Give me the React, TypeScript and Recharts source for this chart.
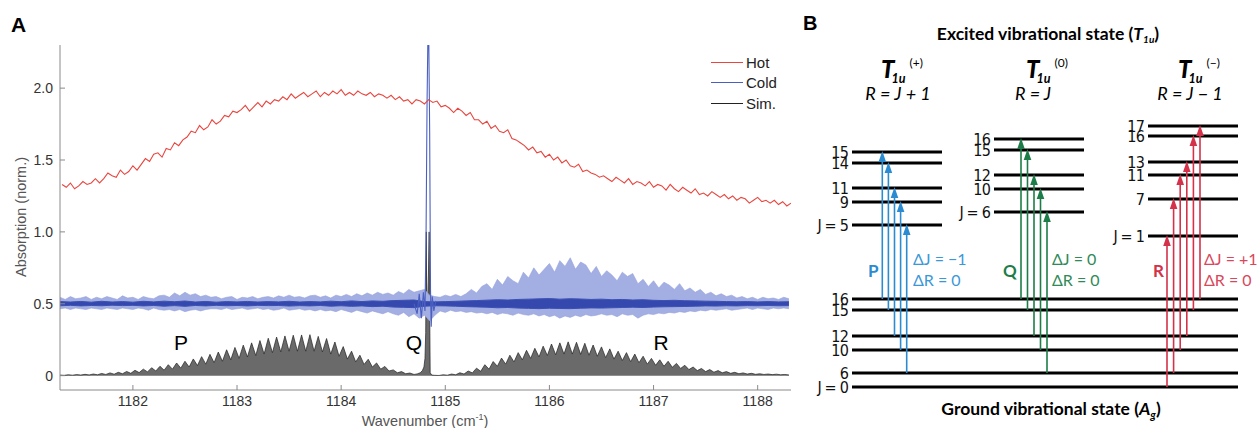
import React from 'react';
import { ComposedChart, Line, Area, XAxis, YAxis, Legend, ReferenceLine, Scatter } from 'recharts';

// ---------- panel A: spectra ----------
const WAVENUMBER_TICKS = [1182, 1183, 1184, 1185, 1186, 1187, 1188];
const ABSORPTION_TICKS = [0, 0.5, 1.0, 1.5, 2.0];

// hot spectrum, sampled every 0.04 cm-1 from 1181.32
const HOT_START = 1181.32;
const HOT_STEP = 0.04;
const HOT = [
  1.33, 1.31, 1.34, 1.30, 1.32, 1.35, 1.33, 1.34, 1.37, 1.34,
  1.37, 1.41, 1.39, 1.38, 1.43, 1.40, 1.42, 1.46, 1.43, 1.47,
  1.51, 1.49, 1.54, 1.55, 1.52, 1.58, 1.57, 1.62, 1.60, 1.64,
  1.66, 1.70, 1.69, 1.74, 1.71, 1.73, 1.78, 1.75, 1.77, 1.81,
  1.80, 1.84, 1.83, 1.85, 1.88, 1.84, 1.87, 1.90, 1.87, 1.91,
  1.89, 1.92, 1.91, 1.94, 1.92, 1.96, 1.93, 1.95, 1.97, 1.94,
  1.96, 1.98, 1.94, 1.97, 1.95, 1.98, 1.96, 1.99, 1.95, 1.97,
  1.95, 1.98, 1.96, 1.95, 1.97, 1.94, 1.96, 1.95, 1.93, 1.95,
  1.92, 1.94, 1.91, 1.92, 1.89, 1.92, 1.91, 1.89, 1.92, 1.90,
  1.91, 1.87, 1.88, 1.86, 1.83, 1.86, 1.84, 1.81, 1.83, 1.78,
  1.78, 1.75, 1.77, 1.72, 1.74, 1.70, 1.69, 1.71, 1.65, 1.64,
  1.62, 1.60, 1.57, 1.59, 1.55, 1.56, 1.52, 1.54, 1.50, 1.52,
  1.48, 1.50, 1.46, 1.45, 1.47, 1.42, 1.43, 1.41, 1.40, 1.38,
  1.39, 1.37, 1.35, 1.38, 1.36, 1.34, 1.37, 1.33, 1.35, 1.34,
  1.32, 1.35, 1.31, 1.33, 1.32, 1.29, 1.33, 1.30, 1.28, 1.31,
  1.29, 1.27, 1.30, 1.26, 1.27, 1.25, 1.28, 1.26, 1.24, 1.26,
  1.23, 1.25, 1.22, 1.24, 1.23, 1.20, 1.22, 1.24, 1.21, 1.22,
  1.20, 1.22, 1.19, 1.21, 1.18, 1.20,
];

// cold spectrum: outer noise envelope every 0.05 cm-1 from 1181.30
const COLD_START = 1181.3;
const COLD_STEP = 0.05;
const COLD_HI = [
  0.545, 0.53, 0.55, 0.535, 0.54, 0.55, 0.53, 0.545, 0.535, 0.55,
  0.54, 0.53, 0.555, 0.54, 0.545, 0.53, 0.55, 0.54, 0.535, 0.555,
  0.56, 0.545, 0.575, 0.555, 0.58, 0.56, 0.57, 0.55, 0.56, 0.545,
  0.55, 0.535, 0.545, 0.55, 0.53, 0.545, 0.54, 0.55, 0.535, 0.545,
  0.55, 0.54, 0.555, 0.545, 0.56, 0.545, 0.55, 0.54, 0.555, 0.56,
  0.545, 0.555, 0.54, 0.56, 0.55, 0.565, 0.55, 0.57, 0.555, 0.575,
  0.56, 0.58, 0.565, 0.575, 0.56, 0.585, 0.57, 0.6, 0.58, 0.59,
  0.6, 0.56, 0.55, 0.545, 0.56, 0.55, 0.565, 0.55,
  0.57, 0.6, 0.575, 0.62, 0.64, 0.6, 0.67, 0.63, 0.69, 0.66,
  0.64, 0.72, 0.68, 0.75, 0.7, 0.74, 0.78, 0.72, 0.8, 0.76,
  0.82, 0.74, 0.79, 0.77, 0.71, 0.76, 0.69, 0.73, 0.7, 0.66,
  0.72, 0.69, 0.71, 0.64, 0.67, 0.62, 0.66, 0.61, 0.65, 0.63,
  0.6, 0.64, 0.59, 0.61, 0.58, 0.6, 0.565, 0.58, 0.555, 0.57,
  0.55, 0.56, 0.54,
  0.55, 0.535, 0.545, 0.53, 0.545, 0.535, 0.54, 0.53, 0.545, 0.535,
];
const COLD_LO = [
  0.465, 0.47, 0.46, 0.47, 0.465, 0.46, 0.47, 0.465, 0.46, 0.47,
  0.465, 0.46, 0.47, 0.465, 0.46, 0.47, 0.465, 0.455, 0.47, 0.46,
  0.455, 0.46, 0.45, 0.46, 0.445, 0.455, 0.46, 0.45, 0.46, 0.465,
  0.465, 0.46, 0.47, 0.46, 0.465, 0.47, 0.46, 0.465, 0.47, 0.46,
  0.465, 0.455, 0.46, 0.47, 0.455, 0.46, 0.465, 0.455, 0.46, 0.45,
  0.46, 0.45, 0.455, 0.445, 0.46, 0.45, 0.44, 0.455, 0.445, 0.435,
  0.45, 0.44, 0.43, 0.445, 0.43, 0.42, 0.44, 0.41, 0.43, 0.40,
  0.42, 0.38, 0.42, 0.45, 0.44, 0.455, 0.445, 0.45, 0.44, 0.445,
  0.435, 0.44, 0.43, 0.44, 0.425, 0.435, 0.43, 0.42, 0.435, 0.425,
  0.42, 0.43, 0.415, 0.425, 0.41, 0.42, 0.40, 0.415, 0.405, 0.42,
  0.41, 0.425, 0.415, 0.42, 0.43, 0.42, 0.425, 0.41, 0.43, 0.42,
  0.425, 0.40, 0.42, 0.43, 0.425, 0.435, 0.43, 0.44, 0.435, 0.445,
  0.44, 0.45, 0.445, 0.455, 0.45, 0.46, 0.455, 0.46, 0.465, 0.455, 0.46,
  0.465, 0.47, 0.46, 0.47, 0.465, 0.46, 0.47, 0.465, 0.47, 0.465,
];
// dense core of the cold trace, every 0.1 cm-1
const CORE_STEP = 0.1;
const COLD_CORE_HI = [
  0.515, 0.512, 0.516, 0.511, 0.517, 0.512, 0.515, 0.511, 0.517, 0.513,
  0.518, 0.514, 0.519, 0.512, 0.516, 0.511, 0.515, 0.513, 0.516, 0.512,
  0.515, 0.513, 0.517, 0.512, 0.515, 0.513, 0.518, 0.514, 0.52, 0.515,
  0.52, 0.517, 0.522, 0.524, 0.526, 0.515, 0.513, 0.515, 0.517, 0.52,
  0.522, 0.525, 0.528, 0.526, 0.53, 0.532, 0.534, 0.536, 0.532, 0.535,
  0.533, 0.53, 0.532, 0.528, 0.53, 0.526, 0.528, 0.524, 0.522, 0.524,
  0.521, 0.52, 0.518, 0.517, 0.515, 0.514, 0.515, 0.513, 0.515, 0.513, 0.514,
];
const COLD_CORE_LO = [
  0.486, 0.489, 0.485, 0.488, 0.486, 0.49, 0.487, 0.489, 0.485, 0.488,
  0.483, 0.487, 0.482, 0.488, 0.485, 0.489, 0.486, 0.488, 0.485, 0.489,
  0.487, 0.488, 0.484, 0.487, 0.485, 0.488, 0.483, 0.486, 0.482, 0.485,
  0.48, 0.483, 0.477, 0.475, 0.473, 0.483, 0.486, 0.485, 0.483, 0.48,
  0.478, 0.476, 0.472, 0.474, 0.47, 0.468, 0.466, 0.469, 0.467, 0.466,
  0.469, 0.471, 0.47, 0.472, 0.474, 0.476, 0.474, 0.477, 0.479, 0.48,
  0.481, 0.483, 0.485, 0.484, 0.486, 0.485, 0.487, 0.486, 0.488, 0.486, 0.487,
];
// Q-branch spike of the cold trace [wavenumber, absorption]
const COLD_Q: [number, number][] = [
  [1184.70, 0.50], [1184.73, 0.43], [1184.75, 0.57], [1184.77, 0.40], [1184.79, 0.58],
  [1184.805, 0.45], [1184.815, 0.95], [1184.825, 1.9], [1184.832, 2.3], [1184.842, 2.3],
  [1184.85, 1.7], [1184.858, 0.6], [1184.865, 0.34], [1184.875, 0.55], [1184.89, 0.45],
  [1184.91, 0.52],
];

// simulated stick spectrum, every 0.04 cm-1
const SIM_STEP = 0.04;
const SIM_P_START = 1181.3;
const SIM_P = [
  0.004, 0.002, 0.006, 0.003, 0.007, 0.004, 0.009, 0.005, 0.011, 0.006,
  0.015, 0.008, 0.019, 0.01, 0.023, 0.013, 0.029, 0.016, 0.037, 0.021,
  0.045, 0.026, 0.055, 0.032, 0.065, 0.038, 0.076, 0.045, 0.088, 0.052,
  0.10, 0.06, 0.116, 0.07, 0.132, 0.08, 0.148, 0.09, 0.164, 0.1,
  0.18, 0.11, 0.196, 0.12, 0.212, 0.13, 0.228, 0.14, 0.244, 0.15,
  0.26, 0.16, 0.268, 0.165, 0.276, 0.17, 0.281, 0.17, 0.283, 0.17,
  0.285, 0.17, 0.273, 0.165, 0.258, 0.15, 0.234, 0.135, 0.202, 0.115,
  0.17, 0.095, 0.142, 0.078, 0.114, 0.06, 0.088, 0.045, 0.064, 0.032,
  0.04, 0.02, 0.028, 0.013, 0.018, 0.008,
];
const SIM_Q: [number, number][] = [
  [1184.73, 0.012], [1184.76, 0.02], [1184.78, 0.035], [1184.795, 0.06], [1184.805, 0.12],
  [1184.812, 0.3], [1184.818, 1.0], [1184.822, 0.4], [1184.83, 0.5], [1184.838, 0.7],
  [1184.845, 1.0], [1184.85, 0.5], [1184.855, 0.02], [1184.87, 0.004],
];
const SIM_R_START = 1184.9;
const SIM_R = [
  0.002, 0.001, 0.006, 0.003, 0.011, 0.006, 0.02, 0.011, 0.032, 0.019,
  0.052, 0.03, 0.076, 0.045, 0.098, 0.065, 0.122, 0.08, 0.142, 0.095,
  0.16, 0.11, 0.176, 0.12, 0.19, 0.13, 0.205, 0.14, 0.22, 0.145,
  0.228, 0.15, 0.235, 0.15, 0.232, 0.148, 0.225, 0.142, 0.213, 0.135,
  0.20, 0.125, 0.186, 0.115, 0.17, 0.105, 0.16, 0.097, 0.15, 0.09,
  0.135, 0.08, 0.12, 0.072, 0.11, 0.065, 0.10, 0.058, 0.085, 0.05,
  0.072, 0.042, 0.06, 0.035, 0.05, 0.028, 0.042, 0.024, 0.035, 0.02,
  0.028, 0.016, 0.023, 0.013, 0.019, 0.011, 0.016, 0.009, 0.013, 0.008,
  0.011, 0.007, 0.01, 0.006, 0.008, 0.005,
];

const LEGEND_NAMES = ['Hot', 'Cold', 'Sim.'];

// ---------- panel B: rovibrational levels ----------
// energies in arbitrary units
const GROUND_J = [0, 6, 10, 12, 15, 16];
const GROUND_E = [0, 14, 37, 51, 77, 88];
const PLUS_J = [5, 9, 11, 14, 15];
const PLUS_E = [162, 185, 199, 224, 235];
const ZERO_J = [6, 10, 12, 15, 16];
const ZERO_E = [175, 198, 212, 237, 248];
const MINUS_J = [1, 7, 11, 13, 16, 17];
const MINUS_E = [151, 188, 212, 225, 251, 261];

const P_FROM = [16, 15, 12, 10, 6];
const P_TO = [15, 14, 11, 9, 5];
const Q_FROM = [16, 15, 12, 10, 6];
const Q_TO = [16, 15, 12, 10, 6];
const R_FROM = [0, 6, 10, 12, 15, 16];
const R_TO = [1, 7, 11, 13, 16, 17];

const HOT_COLOR = '#e8463f';
const COLD_COLOR = '#4a5fc1';
const P_COLOR = '#2b8bd0';
const Q_COLOR = '#1d7d48';
const R_COLOR = '#d3324a';

const SANS = "'Liberation Sans', Arial, sans-serif";
const MYRIAD = "Lato, 'Open Sans', sans-serif";
const NARROW = "'Liberation Sans Narrow', 'DejaVu Sans Condensed', Lato, sans-serif";

const grid = (start: number, step: number, ys: number[]) =>
  ys.map((y, i) => ({ x: +(start + i * step).toFixed(3), y }));

const hotData = grid(HOT_START, HOT_STEP, HOT);
const coldBand = COLD_HI.map((hi, i) => ({ x: +(COLD_START + i * COLD_STEP).toFixed(3), band: [COLD_LO[i], hi] }));
const coreBand = COLD_CORE_HI.map((hi, i) => ({ x: +(COLD_START + i * CORE_STEP).toFixed(3), band: [COLD_CORE_LO[i], hi] }));
const coldQ = COLD_Q.map(([x, y]) => ({ x, y }));
const simData = [
  ...grid(SIM_P_START, SIM_STEP, SIM_P),
  ...SIM_Q.map(([x, y]) => ({ x, y })),
  ...grid(SIM_R_START, SIM_STEP, SIM_R),
];

// layout of the level diagram (x in diagram units)
const SPAN = { ground: [52, 438], plus: [52, 142], zero: [194, 284], minus: [348, 438] };
const ARROWS_AT = { P: [82.3, 6.1], Q: [221, 6.5], R: [367, 6.6] };

type Level = { key: string; x1: number; x2: number; e: number; text: string };
const mkLevels = (name: string, js: number[], es: number[], span: number[]): Level[] =>
  js.map((j, i) => ({ key: `${name}-${j}`, x1: span[0], x2: span[1], e: es[i], text: i === 0 ? `J = ${j}` : `${j}` }));

const levels = [
  ...mkLevels('g', GROUND_J, GROUND_E, SPAN.ground),
  ...mkLevels('p', PLUS_J, PLUS_E, SPAN.plus),
  ...mkLevels('z', ZERO_J, ZERO_E, SPAN.zero),
  ...mkLevels('m', MINUS_J, MINUS_E, SPAN.minus),
];

const mkArrows = (from: number[], to: number[], upJ: number[], upE: number[], at: number[]) =>
  from.map((j, i) => ({
    x: at[0] + i * at[1],
    y0: GROUND_E[GROUND_J.indexOf(j)],
    y: upE[upJ.indexOf(to[i])],
  }));

const pArrows = mkArrows(P_FROM, P_TO, PLUS_J, PLUS_E, ARROWS_AT.P);
const qArrows = mkArrows(Q_FROM, Q_TO, ZERO_J, ZERO_E, ARROWS_AT.Q);
const rArrows = mkArrows(R_FROM, R_TO, MINUS_J, MINUS_E, ARROWS_AT.R);

const head = (color: string) => (p: any) => (
  <path d={`M${p.cx},${p.cy - 1} L${p.cx - 3.8},${p.cy + 10} L${p.cx + 3.8},${p.cy + 10} Z`} fill={color} />
);

function Txt({ x, y, size, anchor = 'start', font = SANS, k = 0.85, style, children }: any) {
  const shift = anchor === 'middle' ? '-50%' : anchor === 'end' ? '-100%' : '0';
  return (
    <div
      style={{
        position: 'absolute', left: x, top: y - size * k, transform: `translateX(${shift})`,
        fontSize: size, lineHeight: 1, fontFamily: font, whiteSpace: 'nowrap', ...style,
      }}
    >
      {children}
    </div>
  );
}

function T1u({ sign }: { sign: string }) {
  return (
    <>
      <span style={{ fontSize: 24, fontWeight: 900, fontStyle: 'italic' }}>T</span>
      <span style={{ fontSize: 12.5, fontWeight: 700, fontStyle: 'italic', position: 'relative', top: 5, marginLeft: -3 }}>1u</span>
      <span style={{ fontSize: 12, position: 'relative', top: -11, marginLeft: 4 }}>{`(${sign})`}</span>
    </>
  );
}

function SpectrumPanel() {
  return (
    <ComposedChart
      width={800}
      height={428}
      margin={{ top: 45, right: 9, bottom: 0, left: 0 }}
      style={{ position: 'absolute', left: 0, top: 0 }}
    >
      <XAxis
        type="number"
        dataKey="x"
        domain={[1181.3, 1188.32]}
        ticks={WAVENUMBER_TICKS}
        interval={0}
        allowDataOverflow
        height={38}
        tickSize={-5}
        tickMargin={11}
        axisLine={{ stroke: '#8a8a8a' }}
        tickLine={{ stroke: '#8a8a8a' }}
        tick={{ fill: '#333', fontSize: 14, fontFamily: SANS }}
      />
      <YAxis
        type="number"
        domain={[-0.1, 2.3]}
        ticks={ABSORPTION_TICKS}
        interval={0}
        allowDataOverflow
        width={60}
        tickSize={-5}
        tickMargin={12}
        tickFormatter={(v: number) => (v === 0 ? '0' : v.toFixed(1))}
        axisLine={{ stroke: '#8a8a8a' }}
        tickLine={{ stroke: '#8a8a8a' }}
        tick={{ fill: '#333', fontSize: 14, fontFamily: SANS }}
      />
      <Area data={simData} dataKey="y" baseValue={0} stroke="#222" strokeWidth={0.7} fill="#5a5a5a" fillOpacity={0.9}
        dot={false} activeDot={false} isAnimationActive={false} legendType="none" />
      <Area data={coldBand} dataKey="band" stroke="#95a1dc" strokeWidth={0.6} fill="#a3aee2" fillOpacity={1}
        dot={false} activeDot={false} isAnimationActive={false} legendType="none" />
      <Area data={coreBand} dataKey="band" stroke="#3c50b4" strokeWidth={1} fill="#3448ad" fillOpacity={1}
        dot={false} activeDot={false} isAnimationActive={false} legendType="none" />
      <Line data={coldQ} dataKey="y" stroke={COLD_COLOR} strokeWidth={1.1} dot={false} activeDot={false}
        isAnimationActive={false} legendType="none" />
      <Line data={hotData} dataKey="y" stroke={HOT_COLOR} strokeWidth={1.1} dot={false} activeDot={false}
        isAnimationActive={false} legendType="none" />
      <Legend
        layout="vertical"
        align="center"
        verticalAlign="middle"
        wrapperStyle={{ left: 711, top: 52, width: 90 }}
        content={() => (
          <div style={{ fontFamily: SANS, fontSize: 15, color: '#222' }}>
            {LEGEND_NAMES.map((n, i) => (
              <div key={n} style={{ display: 'flex', alignItems: 'center', height: 20.5 }}>
                <span style={{ display: 'inline-block', width: 32, borderTop: `1.5px solid ${[HOT_COLOR, COLD_COLOR, '#222'][i]}`, marginRight: 3 }} />
                {n}
              </div>
            ))}
          </div>
        )}
      />
    </ComposedChart>
  );
}

function LevelsPanel() {
  return (
    <ComposedChart
      width={459}
      height={428}
      margin={{ top: 0, right: 0, bottom: 0, left: 0 }}
      style={{ position: 'absolute', left: 800, top: 0 }}
    >
      <XAxis type="number" dataKey="x" domain={[0, 459]} hide />
      <YAxis type="number" dataKey="y" domain={[-41, 387]} hide />
      {levels.map((l) => (
        <ReferenceLine
          key={l.key}
          segment={[{ x: l.x1, y: l.e }, { x: l.x2, y: l.e }]}
          stroke="#000"
          strokeWidth={2.8}
          label={{
            value: l.text, position: 'left', offset: 4, fontSize: 16, fill: '#111',
            fontFamily: NARROW, letterSpacing: -0.8,
          }}
        />
      ))}
      {[
        [pArrows, P_COLOR],
        [qArrows, Q_COLOR],
        [rArrows, R_COLOR],
      ].map(([arr, color]: any) =>
        arr.map((a: any, i: number) => (
          <ReferenceLine
            key={`${color}-${i}`}
            segment={[{ x: a.x, y: a.y0 }, { x: a.x, y: a.y - 4 }]}
            stroke={color}
            strokeWidth={1.6}
          />
        )),
      )}
      <Scatter data={pArrows} shape={head(P_COLOR)} isAnimationActive={false} />
      <Scatter data={qArrows} shape={head(Q_COLOR)} isAnimationActive={false} />
      <Scatter data={rArrows} shape={head(R_COLOR)} isAnimationActive={false} />
    </ComposedChart>
  );
}

export default function App() {
  return (
    <div style={{ position: 'absolute', left: 0, top: 0, width: 1259, height: 428, background: '#fff', overflow: 'hidden' }}>
      <SpectrumPanel />
      <LevelsPanel />

      {/* panel A texts */}
      <Txt x={11} y={32} size={21} style={{ fontWeight: 700 }}>A</Txt>
      <Txt x={181} y={350} size={21} anchor="middle">P</Txt>
      <Txt x={414} y={350} size={21} anchor="middle">Q</Txt>
      <Txt x={661} y={350} size={21} anchor="middle">R</Txt>
      <div
        style={{
          position: 'absolute', left: 21, top: 217, transform: 'translate(-50%, -50%) rotate(-90deg)',
          fontFamily: SANS, fontSize: 14.5, color: '#555', whiteSpace: 'nowrap', lineHeight: 1,
        }}
      >
        Absorption (norm.)
      </div>
      <Txt x={425} y={426} size={14.5} anchor="middle" style={{ color: '#555' }}>
        Wavenumber (cm<span style={{ fontSize: 9, position: 'relative', top: -6 }}>-1</span>)
      </Txt>

      {/* panel B texts */}
      <Txt x={803} y={30} size={20} style={{ fontWeight: 700 }}>B</Txt>
      <Txt x={1048} y={41} size={17.5} anchor="middle" font={MYRIAD} k={0.89} style={{ fontWeight: 700 }}>
        Excited vibrational state (<i>T</i>
        <span style={{ fontSize: 10, fontStyle: 'italic', position: 'relative', top: 3 }}>1u</span>)
      </Txt>
      <Txt x={902} y={78} size={24} anchor="middle" font={MYRIAD} k={0.89}><T1u sign="+" /></Txt>
      <Txt x={1047} y={78} size={24} anchor="middle" font={MYRIAD} k={0.89}><T1u sign="0" /></Txt>
      <Txt x={1199} y={78} size={24} anchor="middle" font={MYRIAD} k={0.89}><T1u sign="−" /></Txt>
      <Txt x={898} y={100} size={18} anchor="middle" font={MYRIAD} k={0.89} style={{ fontStyle: 'italic' }}>R = J + 1</Txt>
      <Txt x={1033} y={100} size={18} anchor="middle" font={MYRIAD} k={0.89} style={{ fontStyle: 'italic' }}>R = J</Txt>
      <Txt x={1190} y={100} size={18} anchor="middle" font={MYRIAD} k={0.89} style={{ fontStyle: 'italic' }}>R = J − 1</Txt>

      <Txt x={868} y={277} size={17} font={MYRIAD} k={0.89} style={{ fontWeight: 700, color: P_COLOR }}>P</Txt>
      <Txt x={1003} y={277} size={17} font={MYRIAD} k={0.89} style={{ fontWeight: 700, color: Q_COLOR }}>Q</Txt>
      <Txt x={1153} y={277} size={17} font={MYRIAD} k={0.89} style={{ fontWeight: 700, color: R_COLOR }}>R</Txt>
      <Txt x={913} y={265} size={16} font={MYRIAD} k={0.89} style={{ color: '#3b98d8' }}>ΔJ = −1</Txt>
      <Txt x={913} y={286} size={16} font={MYRIAD} k={0.89} style={{ color: '#3b98d8' }}>ΔR = 0</Txt>
      <Txt x={1052} y={265} size={16} font={MYRIAD} k={0.89} style={{ color: '#2f8a57' }}>ΔJ = 0</Txt>
      <Txt x={1052} y={286} size={16} font={MYRIAD} k={0.89} style={{ color: '#2f8a57' }}>ΔR = 0</Txt>
      <Txt x={1204} y={265} size={16} font={MYRIAD} k={0.89} style={{ color: '#d9475c' }}>ΔJ = +1</Txt>
      <Txt x={1204} y={286} size={16} font={MYRIAD} k={0.89} style={{ color: '#d9475c' }}>ΔR = 0</Txt>

      <Txt x={1051} y={416} size={17.5} anchor="middle" font={MYRIAD} k={0.89} style={{ fontWeight: 700 }}>
        Ground vibrational state (<i>A</i>
        <span style={{ fontSize: 11, fontStyle: 'italic', position: 'relative', top: 4 }}>g</span>)
      </Txt>
    </div>
  );
}
